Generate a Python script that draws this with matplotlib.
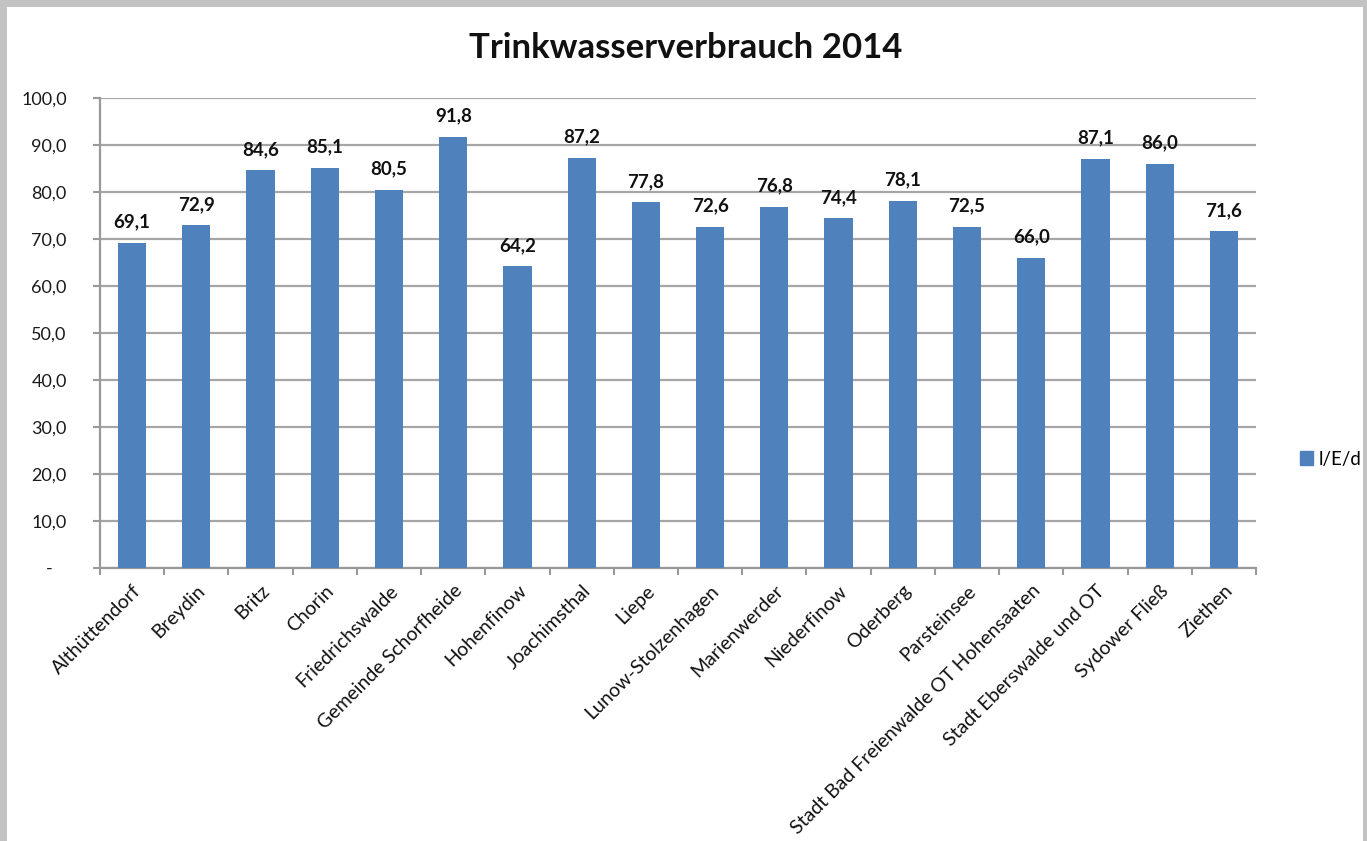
import matplotlib.pyplot as plt
from matplotlib.patches import Rectangle, Patch

plt.rcParams['font.family'] = ['Lato', 'DejaVu Sans']

orte = ['Althüttendorf', 'Breydin', 'Britz', 'Chorin', 'Friedrichswalde',
        'Gemeinde Schorfheide', 'Hohenfinow', 'Joachimsthal', 'Liepe',
        'Lunow-Stolzenhagen', 'Marienwerder', 'Niederfinow', 'Oderberg',
        'Parsteinsee', 'Stadt Bad Freienwalde OT Hohensaaten',
        'Stadt Eberswalde und OT', 'Sydower Fließ', 'Ziethen']
verbrauch = [69.1, 72.9, 84.6, 85.1, 80.5, 91.8, 64.2, 87.2, 77.8,
             72.6, 76.8, 74.4, 78.1, 72.5, 66.0, 87.1, 86.0, 71.6]
yticks = [0, 10, 20, 30, 40, 50, 60, 70, 80, 90, 100]

W, H = 1367, 841
fig = plt.figure(figsize=(W / 100, H / 100), dpi=100)
fig.patch.set_facecolor('#c3c3c3')
fig.patches.append(Rectangle((7 / W, 0), (1363 - 7) / W, (H - 7) / H,
                             transform=fig.transFigure, facecolor='white',
                             edgecolor='none', zorder=-5))

ax = fig.add_axes([100 / W, (H - 568) / H, (1256 - 100) / W, (568 - 98) / H])
ax.set_facecolor('none')

farbe = '#4f81bd'
x = list(range(len(orte)))
ax.bar(x, verbrauch, width=0.44, color=farbe, zorder=3)

for xi, v in zip(x, verbrauch):
    ax.annotate(f'{v:.1f}'.replace('.', ','), (xi, v), xytext=(0, 9),
                textcoords='offset points', ha='center', va='bottom',
                fontsize=13.5, fontweight='bold', color='#111111')

ax.set_xlim(-0.5, len(orte) - 0.5)
ax.set_ylim(0, 100)
ax.set_yticks(yticks)
ax.set_yticklabels(['-   ' if t == 0 else f'{t:.1f}'.replace('.', ',') for t in yticks],
                   fontsize=13, color='#1a1a1a')
ax.yaxis.grid(True, color='#a6a6a6', linewidth=1.6, zorder=0)
ax.set_axisbelow(True)

ax.set_xticks([i - 0.5 for i in range(len(orte) + 1)], minor=False)
ax.set_xticklabels([])
ax.set_xticks(x, minor=True)
ax.set_xticklabels(orte, minor=True, rotation=45, ha='right',
                   rotation_mode='anchor', fontsize=14, color='#111111')
ax.tick_params(axis='x', which='minor', length=0, pad=10)
ax.tick_params(axis='x', which='major', length=5, width=1.5, color='#999999')
ax.tick_params(axis='y', length=5, width=1.5, color='#999999', pad=19)

for s in ['top', 'right']:
    ax.spines[s].set_visible(False)
for s in ['left', 'bottom']:
    ax.spines[s].set_color('#999999')
    ax.spines[s].set_linewidth(1.6)

fig.text(686 / W, 1 - 48 / H, 'Trinkwasserverbrauch 2014', ha='center',
         va='center', fontsize=25, fontweight='bold', color='#111111')

fig.legend(handles=[Patch(color=farbe, label='l/E/d')], loc='center left',
           bbox_to_anchor=(1300 / W, 1 - 459 / H), frameon=False,
           fontsize=13.5, handlelength=0.7, handleheight=0.7,
           handletextpad=0.3, borderpad=0, borderaxespad=0)

fig.savefig('out.png', dpi=100)
